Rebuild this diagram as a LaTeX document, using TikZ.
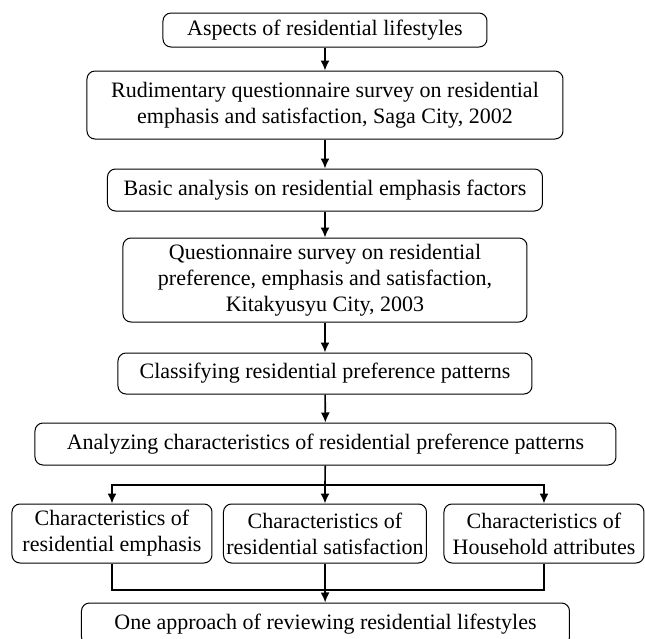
\documentclass[tikz,border=0pt]{standalone}
\usepackage{fontspec}
\setmainfont{Liberation Serif}
\usetikzlibrary{arrows.meta}
\begin{document}
\begin{tikzpicture}[
    x=0.5pt, y=-0.5pt,
    box/.style={
      draw,
      rounded corners=4pt,
      align=center,
      inner sep=0pt,
      line width=0.5pt,
      font=\fontsize{11}{13}\selectfont
    },
    link/.style={-{Latex[length=5pt,width=4.5pt]}, line width=0.8pt},
    wire/.style={line width=0.8pt}
  ]
  \useasboundingbox (0,0) rectangle (645,639);

  \node[box, minimum width=162pt, minimum height=17pt] (aspects) at (325,30) {Aspects of residential lifestyles};
  \node[box, minimum width=238pt, minimum height=34pt] (saga) at (325,105) {Rudimentary questionnaire survey on residential\\emphasis and satisfaction, Saga City, 2002};
  \node[box, minimum width=217.5pt, minimum height=21pt] (basic) at (325,190) {Basic analysis on residential emphasis factors};
  \node[box, minimum width=202pt, minimum height=42pt] (kita) at (325,280) {Questionnaire survey on residential\\preference, emphasis and satisfaction,\\Kitakyusyu City, 2003};
  \node[box, minimum width=207pt, minimum height=20.5pt] (classify) at (325,373.5) {Classifying residential preference patterns};
  \node[box, minimum width=290.5pt, minimum height=21pt] (analyze) at (325.5,444) {Analyzing characteristics of residential preference patterns};

  \node[box, minimum width=100pt, minimum height=29.5pt] (emph) at (112,533.5) {Characteristics of\\residential emphasis};
  \node[box, minimum width=101.5pt, minimum height=29.5pt] (satis) at (325,533.5) {Characteristics of\\residential satisfaction};
  \node[box, minimum width=100pt, minimum height=29.5pt] (house) at (544,533.5) {Characteristics of\\Household attributes};

  \node[box, minimum width=244pt, minimum height=21pt] (review) at (325.5,624) {One approach of reviewing residential lifestyles};

  \coordinate (split) at (325,485);
  \coordinate (merge) at (325,590);

  \draw[link] (aspects) -- (saga);
  \draw[link] (saga) -- (basic);
  \draw[link] (basic) -- (kita);
  \draw[link] (kita) -- (classify);
  \draw[link] (classify) -- (analyze);

  \draw[wire] (analyze) -- (split);
  \draw[link] (split) -| (emph.north);
  \draw[link] (split) -- (satis);
  \draw[link] (split) -| (house.north);

  \draw[wire] (emph.south) |- (merge);
  \draw[wire] (house.south) |- (merge);
  \draw[wire] (satis) -- (merge);
  \draw[link] (merge) -- (review);

\end{tikzpicture}
\end{document}
